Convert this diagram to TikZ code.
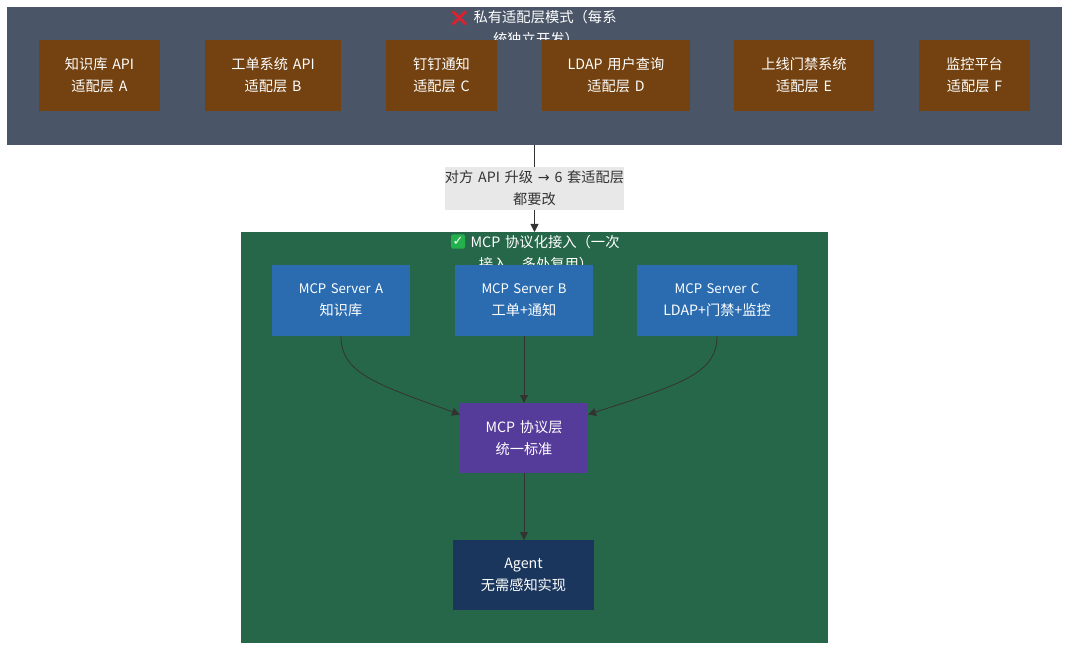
\documentclass[tikz,border=0pt]{standalone}
\usepackage{fontspec}
\setmainfont[WordSpace=1.5]{Noto Sans CJK SC}
\newfontfamily\emojifont{Noto Emoji}
\newfontfamily\symfont{DejaVu Sans}
\usetikzlibrary{arrows.meta}
\definecolor{slatebg}{HTML}{4A5568}
\definecolor{greenbg}{HTML}{276749}
\definecolor{brownbox}{HTML}{744210}
\definecolor{bluebox}{HTML}{2B6CB0}
\definecolor{purplebox}{HTML}{553C9A}
\definecolor{navybox}{HTML}{1A365D}
\definecolor{edgecol}{HTML}{333333}
\definecolor{labelbg}{HTML}{E8E8E8}
\definecolor{labeltext}{HTML}{333333}
\definecolor{crossred}{HTML}{E0202C}
\definecolor{checkgreen}{HTML}{22B14C}
\tikzset{
  x=1pt,y=-1pt,
  panel/.style={draw=none,inner sep=0pt,outer sep=0pt},
  boxnode/.style={draw=none,text=white,align=center,inner sep=0pt,outer sep=0pt,
    font=\fontsize{14.2}{22}\selectfont},
  titlenode/.style={text=white,align=center,inner sep=0pt,
    font=\fontsize{14.3}{22}\selectfont},
  edgeline/.style={draw=edgecol,line width=0.8pt,-{Triangle[length=8pt,width=8pt,color=edgecol]}},
}
\newcommand{\boxat}[7]{% name, x1, y1, x2, y2, colour, text
  \node[boxnode,fill=#6,minimum width=#4-#2,minimum height=#5-#3] (#1) at ({(#2+#4)/2},{(#3+#5)/2}) {#7};}
\newcommand{\srvname}[1]{{\fontsize{13.2}{22}\selectfont #1}}
\begin{document}
\begin{tikzpicture}
\useasboundingbox (0,0) rectangle (1080,658);
\fill[white] (0,0) rectangle (1080,658);
% panels
\node[panel,fill=slatebg,minimum width=1055,minimum height=138] (top) at (534.5,76) {};
\node[panel,fill=greenbg,minimum width=587,minimum height=411] (bottom) at (534.5,437.5) {};
% panel titles, cut off as in the reference
\begin{scope}
  \clip (7,7) rectangle (1062,40);
  \node[titlenode] (toptitle) at (536,28.5) {\phantom{\emojifont ❌}私有适配层模式（每系\\统独立开发）};
\end{scope}
\node[text=crossred,inner sep=0pt,font=\emojifont\fontsize{15}{15}\selectfont] (cross) at (459.5,18) {❌};
\begin{scope}
  \clip (241,232) rectangle (828,265);
  \node[titlenode] (bottomtitle) at (536,253.5) {\phantom{\emojifont ❌}MCP 协议化接入（一次\\接入，多处复用）};
\end{scope}
\node[fill=checkgreen,rounded corners=1.5pt,minimum size=14pt,inner sep=0pt] (checkbox) at (458,241.5) {};
\node[text=white,inner sep=0pt,font=\symfont\bfseries\fontsize{13}{13}\selectfont] (check) at (458,241.5) {✓};
% top row
\boxat{a1}{39}{40}{160}{111}{brownbox}{知识库 API\\适配层 A}
\boxat{a2}{205}{40}{341}{111}{brownbox}{工单系统 API\\适配层 B}
\boxat{a3}{386}{40}{497}{111}{brownbox}{钉钉通知\\适配层 C}
\boxat{a4}{542}{40}{690}{111}{brownbox}{LDAP 用户查询\\适配层 D}
\boxat{a5}{734}{40}{874}{111}{brownbox}{上线门禁系统\\适配层 E}
\boxat{a6}{919}{40}{1030}{111}{brownbox}{监控平台\\适配层 F}
% MCP servers
\boxat{s1}{272}{265}{410}{336}{bluebox}{\srvname{MCP Server A}\\知识库}
\boxat{s2}{455}{265}{593}{336}{bluebox}{\srvname{MCP Server B}\\工单+通知}
\boxat{s3}{637}{265}{797}{336}{bluebox}{\srvname{MCP Server C}\\LDAP+门禁+监控}
\boxat{mcp}{460}{403}{588}{473}{purplebox}{MCP 协议层\\统一标准}
\boxat{agent}{453}{540}{594}{610}{navybox}{Agent\\无需感知实现}
% connectors
\coordinate (mcpl) at (460,414.5);
\coordinate (mcpr) at (588,414.5);
\draw[edgeline] (s1.south) .. controls (341,372) and (372,383) .. (mcpl);
\draw[edgeline] (s2.south) -- (mcp.north);
\draw[edgeline] (s3.south) .. controls (717,372) and (686,383) .. (mcpr);
\draw[edgeline] (mcp.south) -- (mcp.south |- agent.north);
\draw[edgeline] (top.south) -- (bottom.north);
\node[fill=labelbg,text=labeltext,align=center,inner sep=0pt,minimum width=179,minimum height=43,
  font=\fontsize{14.2}{22}\selectfont] (elabel) at (534.5,188.5) {对方 API 升级 {\symfont →} 6 套适配层\\都要改};
\end{tikzpicture}
\end{document}
